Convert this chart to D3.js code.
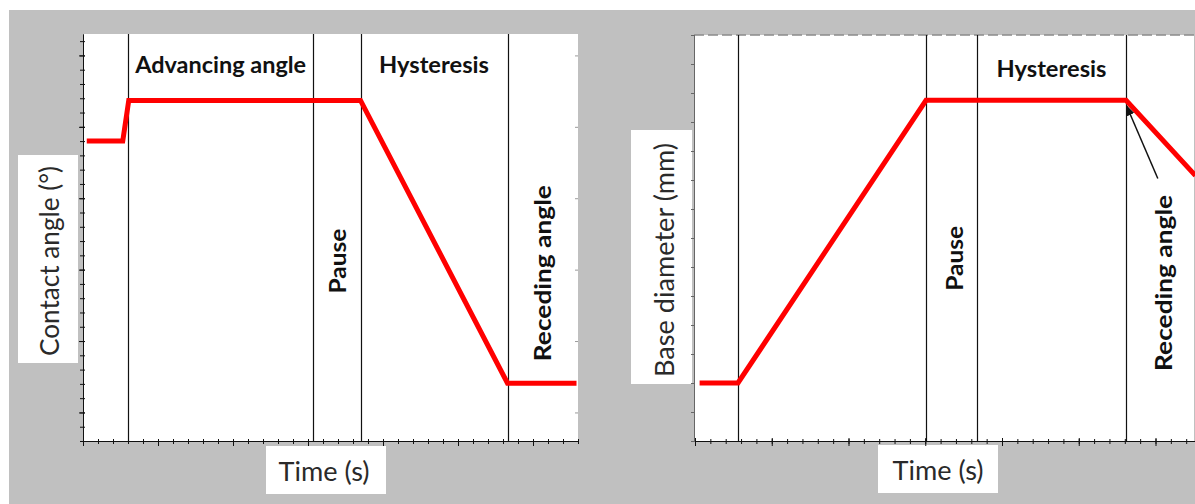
<!DOCTYPE html>
<html><head><meta charset="utf-8">
<script src="https://cdn.jsdelivr.net/npm/d3@7"></script>
<style>body{margin:0;background:#fff}svg{display:block}</style>
</head><body>
<svg id="c" width="1195" height="504"></svg>
<script>
// ---- data (arbitrary units) ----
const phasesLeft = [3.0, 15.35, 18.5, 28.3];
const timeLeft = [0.25, 2.65, 3.05, 18.5, 28.3, 32.9];
const angleLeft = [21, 21, 23.85, 23.85, 4.05, 4.05];

const phasesRight = [2.8, 15.05, 18.37, 28.08];
const timeRight = [0.3, 2.8, 15.05, 28.08, 32.6];
const diameterRight = [2, 2, 11.75, 11.75, 9.15];

const phaseNamesLeft = ["Advancing angle", "Pause", "Hysteresis", "Receding angle"];
const phaseNamesRight = ["Pause", "Hysteresis", "Receding angle"];
const yTitles = ["Contact angle (°)", "Base diameter (mm)"];
const xTitle = "Time (s)";

const svg = d3.select("#c");
const FONT = "Lato, 'Open Sans', sans-serif";
const TXT = "#2a2a2a";

svg.append("rect").attr("x", 9).attr("y", 10).attr("width", 1186).attr("height", 494).attr("fill", "#c0c0c0");

// scales
const xL = d3.scaleLinear().domain([0, 33]).range([83, 578]);
const yL = d3.scaleLinear().domain([0, 28.5]).range([441, 34]);
const xR = d3.scaleLinear().domain([0, 33]).range([695, 695 + 33 * 15.35]);
const yR = d3.scaleLinear().domain([0, 14]).range([441, 35]);

// plot backgrounds
svg.append("rect").attr("x", xL(0)).attr("y", yL(28.5)).attr("width", xL(33) - xL(0)).attr("height", yL(0) - yL(28.5)).attr("fill", "#fff");
svg.append("rect").attr("x", xR(0) - 1).attr("y", yR(14)).attr("width", 1195 - xR(0)).attr("height", yR(0) - yR(14)).attr("fill", "#fff");
// dashed top border right
svg.append("line").attr("x1", xR(0) - 1).attr("x2", 1195).attr("y1", yR(14)).attr("y2", yR(14))
  .attr("stroke", "#8a8a8a").attr("stroke-width", 1.5).attr("stroke-dasharray", "10,4");

// label boxes
svg.append("rect").attr("x", 18).attr("y", 155).attr("width", 60).attr("height", 208).attr("fill", "#fff");
svg.append("rect").attr("x", 631).attr("y", 130).attr("width", 61).attr("height", 254).attr("fill", "#fff");
svg.append("rect").attr("x", 266).attr("y", 446).attr("width", 120).attr("height", 48).attr("fill", "#fff");
svg.append("rect").attr("x", 878).attr("y", 445).attr("width", 120).attr("height", 48).attr("fill", "#fff");

// phase separators
svg.selectAll(".pl").data(phasesLeft).join("line")
  .attr("x1", d => Math.round(xL(d)) + 0.5).attr("x2", d => Math.round(xL(d)) + 0.5)
  .attr("y1", yL(28.5)).attr("y2", yL(0)).attr("stroke", "#111").attr("stroke-width", 1.2);
svg.selectAll(".pr").data(phasesRight).join("line")
  .attr("x1", d => Math.round(xR(d)) + 0.5).attr("x2", d => Math.round(xR(d)) + 0.5)
  .attr("y1", yR(14)).attr("y2", yR(0)).attr("stroke", "#111").attr("stroke-width", 1.2);

// red lines
const lineL = d3.line().x((d, i) => xL(timeLeft[i])).y(d => yL(d));
svg.append("path").attr("d", lineL(angleLeft)).attr("fill", "none").attr("stroke", "#ff0000").attr("stroke-width", 5).attr("stroke-linejoin", "miter");
const lineR = d3.line().x((d, i) => xR(timeRight[i])).y(d => yR(d));
svg.append("path").attr("d", lineR(diameterRight)).attr("fill", "none").attr("stroke", "#ff0000").attr("stroke-width", 5).attr("stroke-linejoin", "miter");

// axes
function styleAxis(g, col) {
  g.selectAll("text").remove();
  g.selectAll("line").attr("stroke", col || "#111");
  g.select(".domain").attr("stroke", col || "#111");
}
// left bottom
svg.append("g").attr("transform", `translate(0,${yL(0)})`)
  .call(d3.axisBottom(xL).tickValues(d3.range(0, 34, 1)).tickSize(3).tickSizeOuter(0)).call(styleAxis)
  .selectAll(".tick line").attr("y1", -2);
svg.append("g").attr("transform", `translate(0,${yL(0)})`)
  .call(d3.axisBottom(xL).tickValues(d3.range(0, 34, 5)).tickSize(5).tickSizeOuter(0)).call(styleAxis);
// left y
svg.append("g").attr("transform", `translate(${xL(0)},0)`)
  .call(d3.axisLeft(yL).tickValues(d3.range(0, 29, 1)).tickSize(3).tickSizeOuter(0)).call(styleAxis)
  .selectAll(".tick line").attr("x1", 2);
svg.append("g").attr("transform", `translate(${xL(0)},0)`)
  .call(d3.axisLeft(yL).tickValues(d3.range(2, 29, 5)).tickSize(4).tickSizeOuter(0)).call(styleAxis)
  .selectAll(".tick line").attr("x1", 2);
// left right-edge ticks
const re = svg.append("g").attr("transform", `translate(${xL(33)},0)`)
  .call(d3.axisLeft(yL).tickValues(d3.range(2, 29, 5)).tickSize(3).tickSizeOuter(0)).call(styleAxis, "#9a9a9a");
re.select(".domain").remove();

// right bottom
svg.append("g").attr("transform", `translate(0,${yR(0)})`)
  .call(d3.axisBottom(xR).tickValues(d3.range(0, 33, 1)).tickSize(3).tickSizeOuter(0)).call(styleAxis)
  .selectAll(".tick line").attr("y1", -2);
svg.append("g").attr("transform", `translate(0,${yR(0)})`)
  .call(d3.axisBottom(xR).tickValues(d3.range(0, 33, 5)).tickSize(5).tickSizeOuter(0)).call(styleAxis)
  .selectAll(".tick line").attr("y1", -3);
// right y
svg.append("g").attr("transform", `translate(${xR(0) - 1},0)`)
  .call(d3.axisLeft(yR).tickValues(d3.range(0, 15, 1)).tickSize(3).tickSizeOuter(0)).call(styleAxis, "#666")
  .selectAll(".tick line").attr("x1", 1);

// phase labels
function bold(x, y, t, rot, len) {
  const el = svg.append("text").attr("font-family", FONT).attr("font-weight", 700).attr("font-size", 23.5)
    .attr("fill", "#111").attr("text-anchor", "middle").attr("dominant-baseline", "central").text(t);
  if (len) el.attr("textLength", len).attr("lengthAdjust", "spacingAndGlyphs");
  if (rot) el.attr("transform", `translate(${x},${y}) rotate(-90)`);
  else el.attr("x", x).attr("y", y);
}
bold(xL((phasesLeft[0] + phasesLeft[1]) / 2), yL(26.4), phaseNamesLeft[0], false, 171);
bold(xL((phasesLeft[1] + phasesLeft[2]) / 2), yL(12.6), phaseNamesLeft[1], true, 65);
bold(xL((phasesLeft[2] + phasesLeft[3]) / 2), yL(26.4), phaseNamesLeft[2], false, 110);
bold(xL(30.6), yL(11.75), phaseNamesLeft[3], true, 176);

bold(xR(16.85), yR(6.3), phaseNamesRight[0], true, 65);
bold(xR((phasesRight[2] + phasesRight[3]) / 2), yR(12.85), phaseNamesRight[1], false, 110);
bold(xR(30.5), yR(5.45), phaseNamesRight[2], true, 176);

// arrow
svg.append("defs").append("marker").attr("id", "ah").attr("viewBox", "0 0 10 10").attr("refX", 9).attr("refY", 5)
  .attr("markerWidth", 7).attr("markerHeight", 7).attr("orient", "auto-start-reverse")
  .append("path").attr("d", "M0,1 L10,5 L0,9 z").attr("fill", "#111");
svg.append("line").attr("x1", xR(30.15)).attr("y1", yR(9.05)).attr("x2", xR(28.12)).attr("y2", yR(11.55))
  .attr("stroke", "#111").attr("stroke-width", 1.5).attr("marker-end", "url(#ah)");

// axis titles
function title(x, y, t, rot, len) {
  const el = svg.append("text").attr("font-family", FONT).attr("font-size", 26.5)
    .attr("fill", TXT).attr("text-anchor", "middle").attr("dominant-baseline", "central").text(t)
    .attr("textLength", len).attr("lengthAdjust", "spacingAndGlyphs");
  if (rot) el.attr("transform", `translate(${x},${y}) rotate(-90)`);
  else el.attr("x", x).attr("y", y);
}
title(49, 261, yTitles[0], true, 190);
title(664, 260, yTitles[1], true, 234);
title(324, 471, xTitle, false, 91);
title(938, 470, xTitle, false, 91);
</script>
</body></html>
